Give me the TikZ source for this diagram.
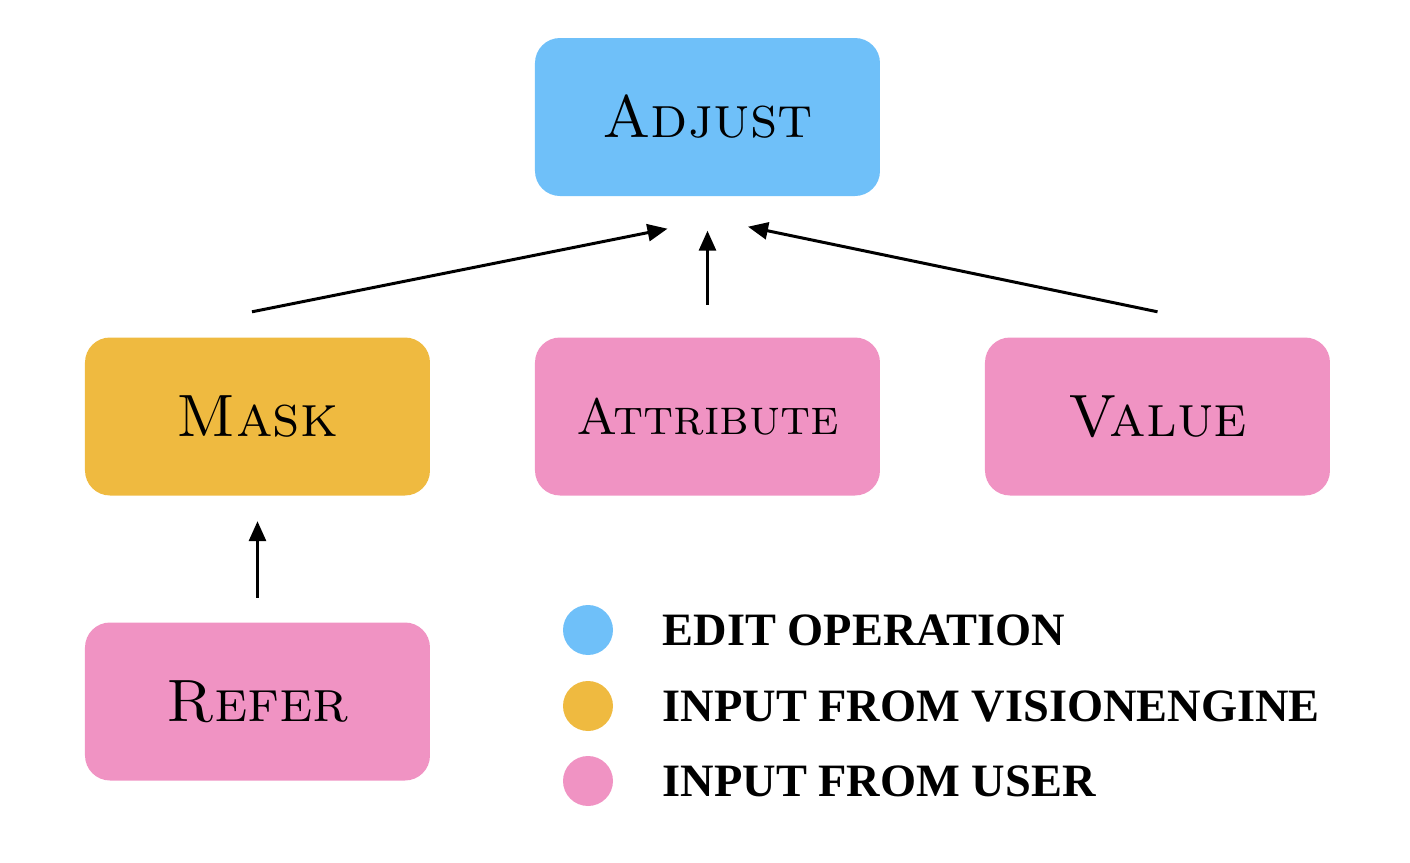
\documentclass[tikz,border=0pt]{standalone}
\usepackage{fontspec}
\usepackage{tikz}
\usetikzlibrary{arrows.meta}
\usepackage{xcolor}

\newfontfamily\legendfont{Liberation Serif}

\definecolor{opblue}{HTML}{6FC0F9}
\definecolor{visgold}{HTML}{EFBA40}
\definecolor{userpink}{HTML}{F093C3}

\begin{document}
\begin{tikzpicture}[
	box/.style={rectangle, rounded corners=0.25cm, minimum width=3.45cm, minimum height=1.58cm, inner sep=0pt, font=\fontsize{17}{19}\selectfont\scshape},
	dot/.style={circle, minimum size=0.5cm, inner sep=0pt},
	legend/.style={anchor=west, inner sep=0pt, font=\legendfont\fontsize{13.2}{15}\selectfont\bfseries},
	arr/.style={-{Triangle[length=0.2cm,width=0.17cm]}, line width=0.03cm}]
	\useasboundingbox (0,0) rectangle (14.1,8.62);

	\node[box, fill=opblue]   (adjust) at (7.075,7.45)  {Adjust};
	\node[box, fill=visgold]  (mask)   at (2.575,4.455) {Mask};
	\node[box, fill=userpink, font=\fontsize{14.5}{17}\selectfont\scshape] (attr) at (7.075,4.455) {Attribute};
	\node[box, fill=userpink] (value)  at (11.575,4.455) {Value};
	\node[box, fill=userpink] (refer)  at (2.575,1.605) {Refer};

	\draw[arr] ([xshift=-0.055cm,yshift=0.25cm]mask.north) -- ([xshift=-0.4cm,yshift=-0.32cm]adjust.south);
	\draw[arr] ([yshift=0.32cm]attr.north)   -- ([yshift=-0.34cm]adjust.south);
	\draw[arr] ([yshift=0.25cm]value.north)  -- ([xshift=0.405cm,yshift=-0.30cm]adjust.south);
	\draw[arr] ([yshift=0.24cm]refer.north)  -- ([yshift=-0.25cm]mask.south);

	% legend
	\node[dot, fill=opblue]   (d1) at (5.88,2.32) {};
	\node[dot, fill=visgold]  (d2) at (5.88,1.56) {};
	\node[dot, fill=userpink] (d3) at (5.88,0.81) {};
	\node[legend] (l1) at (6.62,2.32) {EDIT OPERATION};
	\node[legend] (l2) at (6.62,1.56) {INPUT FROM VISIONENGINE};
	\node[legend] (l3) at (6.62,0.81) {INPUT FROM USER};
\end{tikzpicture}
\end{document}
